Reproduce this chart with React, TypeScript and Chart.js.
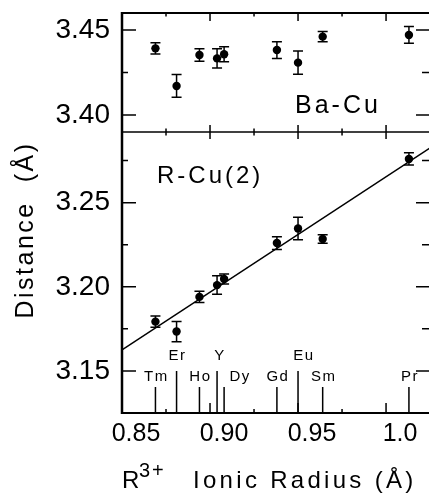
import React, { useEffect, useRef } from "react";
import { Chart, registerables } from "chart.js";

Chart.register(...registerables);

// ---------- data ----------
const ELEMENTS = ["Tm", "Er", "Ho", "Y", "Dy", "Gd", "Eu", "Sm", "Pr"];
const IONIC_RADIUS = [0.869, 0.881, 0.894, 0.904, 0.908, 0.938, 0.95, 0.964, 1.013];
const BA_CU = [3.4392, 3.4171, 3.4353, 3.4333, 3.4357, 3.4382, 3.4308, 3.4461, 3.4471];
const BA_CU_ERR = [0.0033, 0.0067, 0.0037, 0.0056, 0.0044, 0.0049, 0.0068, 0.003, 0.0049];
const R_CU2 = [3.1793, 3.1734, 3.194, 3.201, 3.2046, 3.226, 3.2347, 3.2284, 3.276];
const R_CU2_ERR = [0.0033, 0.006, 0.0033, 0.0055, 0.003, 0.0038, 0.0067, 0.0025, 0.0036];
const FIT_X = [0.85, 1.03];
const FIT_Y = [3.1625, 3.2859];
const UPPER_ROW = ["Er", "Y", "Eu"];

const X_TICKS = [0.85, 0.9, 0.95, 1.0];
const X_TICK_LABELS = ["0.85", "0.90", "0.95", "1.0"];
const X_MINOR = [0.875, 0.925, 0.975];
const TOP_TICKS = [3.4, 3.45];
const TOP_MINOR = [3.425];
const BOT_TICKS = [3.15, 3.2, 3.25];
const BOT_MINOR = [3.175, 3.225, 3.275];

const FONT = "'Liberation Sans', Arial, Helvetica, sans-serif";

function drawText(
  ctx: CanvasRenderingContext2D,
  text: string,
  x: number,
  y: number,
  size: number,
  spacing: number,
  align: CanvasTextAlign = "left"
) {
  ctx.font = `${size}px ${FONT}`;
  (ctx as any).letterSpacing = `${spacing}px`;
  ctx.textAlign = align;
  ctx.textBaseline = "alphabetic";
  ctx.fillText(text, x, y);
  (ctx as any).letterSpacing = "0px";
}

const framePlugin = {
  id: "frame",
  afterDatasetsDraw(chart: any) {
    const ctx: CanvasRenderingContext2D = chart.ctx;
    const xs = chart.scales.x;
    const yT = chart.scales.yTop;
    const yB = chart.scales.yBot;
    const L = chart.chartArea.left;
    const R = chart.chartArea.right;
    const T = yT.top;
    const M = yT.bottom;
    const B = yB.bottom;
    ctx.save();
    ctx.strokeStyle = "#000";
    ctx.fillStyle = "#000";
    ctx.lineCap = "butt";

    // error bars
    const errBars = (vals: number[], errs: number[], ys: any) => {
      ctx.lineWidth = 1.5;
      ctx.beginPath();
      vals.forEach((v, i) => {
        const px = xs.getPixelForValue(IONIC_RADIUS[i]);
        const y1 = ys.getPixelForValue(v + errs[i]);
        const y2 = ys.getPixelForValue(v - errs[i]);
        ctx.moveTo(px, y1);
        ctx.lineTo(px, y2);
        ctx.moveTo(px - 5, y1);
        ctx.lineTo(px + 5, y1);
        ctx.moveTo(px - 5, y2);
        ctx.lineTo(px + 5, y2);
      });
      ctx.stroke();
    };
    errBars(BA_CU, BA_CU_ERR, yT);
    errBars(R_CU2, R_CU2_ERR, yB);

    // frame
    ctx.beginPath();
    ctx.lineWidth = 2.5;
    ctx.moveTo(L, T - 1);
    ctx.lineTo(L, B + 1);
    ctx.stroke();
    ctx.beginPath();
    ctx.lineWidth = 2.2;
    ctx.moveTo(L, T);
    ctx.lineTo(R, T);
    ctx.moveTo(L, B);
    ctx.lineTo(R, B);
    ctx.stroke();
    ctx.beginPath();
    ctx.lineWidth = 1.6;
    ctx.moveTo(L, M);
    ctx.lineTo(R, M);
    ctx.stroke();

    // ticks
    ctx.beginPath();
    ctx.lineWidth = 1.5;
    X_TICKS.forEach((v) => {
      const px = xs.getPixelForValue(v);
      if (px <= L + 2) return;
      ctx.moveTo(px, T);
      ctx.lineTo(px, T + 8);
      ctx.moveTo(px, M - 7);
      ctx.lineTo(px, M + 7);
      ctx.moveTo(px, B);
      ctx.lineTo(px, B - 10);
    });
    X_MINOR.forEach((v) => {
      const px = xs.getPixelForValue(v);
      ctx.moveTo(px, T);
      ctx.lineTo(px, T + 3.5);
      ctx.moveTo(px, M - 3.5);
      ctx.lineTo(px, M + 3.5);
      ctx.moveTo(px, B);
      ctx.lineTo(px, B - 4);
    });
    const yTicks = (vals: number[], ys: any, lenL: number, lenR: number) => {
      vals.forEach((v) => {
        const py = ys.getPixelForValue(v);
        ctx.moveTo(L, py);
        ctx.lineTo(L + lenL, py);
        ctx.moveTo(R, py);
        ctx.lineTo(R - lenR, py);
      });
    };
    yTicks(TOP_TICKS, yT, 14, 13);
    yTicks(TOP_MINOR, yT, 6, 7);
    yTicks(BOT_TICKS, yB, 14, 13);
    yTicks(BOT_MINOR, yB, 6, 7);
    ctx.stroke();

    // ion markers
    ctx.beginPath();
    ctx.lineWidth = 1.5;
    ELEMENTS.forEach((el, i) => {
      const px = xs.getPixelForValue(IONIC_RADIUS[i]);
      const upper = UPPER_ROW.includes(el);
      ctx.moveTo(px, B);
      ctx.lineTo(px, B - (upper ? 42 : 26));
    });
    ctx.stroke();
    const nudge: Record<string, number> = { Dy: 15, Eu: 5, Y: 2 };
    ELEMENTS.forEach((el, i) => {
      const px = xs.getPixelForValue(IONIC_RADIUS[i]) + (nudge[el] || 0);
      const upper = UPPER_ROW.includes(el);
      drawText(ctx, el, px + 1, upper ? B - 53 : B - 32, 15, 1.5, "center");
    });

    // panel labels
    drawText(ctx, "Ba-Cu", L + 173, M - 19, 25, 3, "left");
    drawText(ctx, "R-Cu(2)", L + 35, M + 51, 24, 3, "left");

    // y title
    ctx.save();
    ctx.translate(33, 230);
    ctx.rotate(-Math.PI / 2);
    drawText(ctx, "Distance  (Å)", 0, 0, 25, 2.5, "center");
    ctx.restore();

    // x title
    drawText(ctx, "R", L, 488, 24, 0, "left");
    drawText(ctx, "3+", L + 17, 477, 20, 2, "left");
    drawText(ctx, "Ionic Radius (Å)", L + 71, 488, 24, 3.3, "left");

    ctx.restore();
  },
};

export default function App() {
  const ref = useRef<HTMLCanvasElement | null>(null);

  useEffect(() => {
    document.body.style.margin = "0";
    document.body.style.overflow = "hidden";
    const canvas = ref.current;
    if (!canvas) return;

    const yAxisCommon = {
      type: "linear" as const,
      position: "left" as const,
      stack: "v",
      grid: { display: false, drawTicks: false },
      border: { display: false },
      ticks: {
        padding: 12,
        color: "#000",
        font: { family: FONT, size: 28 },
        callback: (v: any) => Number(v).toFixed(2),
      },
      afterFit: (s: any) => {
        s.width = 122;
        s.paddingTop = 0;
        s.paddingBottom = 0;
      },
    };

    const chart = new Chart(canvas, {
      type: "scatter",
      data: {
        datasets: [
          {
            label: "Ba-Cu",
            data: IONIC_RADIUS.map((x, i) => ({ x, y: BA_CU[i] })),
            yAxisID: "yTop",
            pointRadius: 4.2,
            pointBackgroundColor: "#000",
            pointBorderColor: "#000",
            pointBorderWidth: 0,
          },
          {
            label: "R-Cu(2)",
            data: IONIC_RADIUS.map((x, i) => ({ x, y: R_CU2[i] })),
            yAxisID: "yBot",
            pointRadius: 4.2,
            pointBackgroundColor: "#000",
            pointBorderColor: "#000",
            pointBorderWidth: 0,
          },
          {
            label: "fit",
            data: FIT_X.map((x, i) => ({ x, y: FIT_Y[i] })),
            yAxisID: "yBot",
            showLine: true,
            borderColor: "#000",
            borderWidth: 1.5,
            pointRadius: 0,
            fill: false,
          },
        ],
      },
      options: {
        responsive: false,
        animation: false,
        events: [],
        layout: { autoPadding: false, padding: { top: 13, left: 0, right: 0, bottom: 0 } },
        plugins: { legend: { display: false }, tooltip: { enabled: false } },
        scales: {
          x: {
            type: "linear",
            position: "bottom",
            min: 0.85,
            max: 1.0244,
            grid: { display: false, drawTicks: false },
            border: { display: false },
            afterBuildTicks: (s: any) => {
              s.ticks = X_TICKS.map((v) => ({ value: v }));
            },
            afterFit: (s: any) => {
              s.height = 81;
              s.paddingLeft = 0;
              s.paddingRight = 0;
            },
            ticks: {
              autoSkip: false,
              maxRotation: 0,
              minRotation: 0,
              padding: 6,
              labelOffset: 14,
              color: "#000",
              font: { family: FONT, size: 25 },
              callback: (_v: any, i: number) => X_TICK_LABELS[i],
            },
          },
          yBot: {
            ...yAxisCommon,
            min: 3.125,
            max: 3.292,
            stackWeight: 281,
            weight: 1,
            afterBuildTicks: (s: any) => {
              s.ticks = BOT_TICKS.map((v) => ({ value: v }));
            },
          },
          yTop: {
            ...yAxisCommon,
            min: 3.39,
            max: 3.46,
            stackWeight: 119,
            weight: 2,
            afterBuildTicks: (s: any) => {
              s.ticks = TOP_TICKS.map((v) => ({ value: v }));
            },
          },
        } as any,
      },
      plugins: [framePlugin],
    });

    return () => chart.destroy();
  }, []);

  return (
    <canvas
      ref={ref}
      width={429}
      height={494}
      style={{ display: "block", width: 429, height: 494 }}
    />
  );
}
